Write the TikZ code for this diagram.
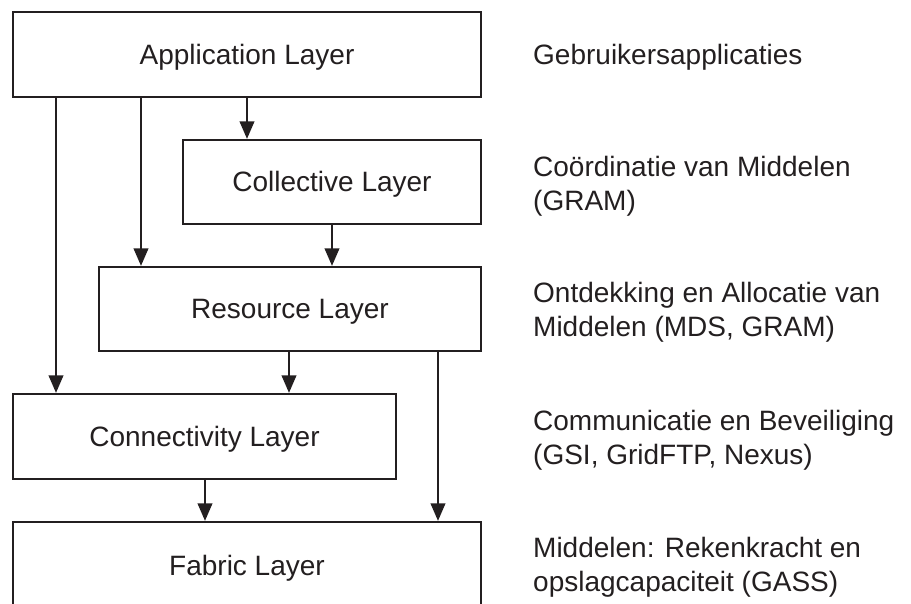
\documentclass[tikz,border=0pt]{standalone}
\usepackage{fontspec}
\setmainfont{Liberation Sans}
\usetikzlibrary{arrows.meta}
\definecolor{ink}{HTML}{231F20}
\begin{document}
\begin{tikzpicture}[x=1pt,y=-1pt,
  layer/.style={draw=ink,line width=2.2pt,fill=white,inner sep=0pt,
    text height=20pt,text depth=0pt,
    font=\fontsize{28}{33}\selectfont,text=ink},
  note/.style={anchor=west,align=left,inner sep=0pt,
    font=\fontsize{28}{34}\selectfont,text=ink},
  flow/.style={draw=ink,line width=2.2pt,
    -{Triangle[width=14.5pt,length=17.5pt]}}]
\useasboundingbox (0,0) rectangle (911,604);
% layer boxes
\node[layer,minimum width=468pt,minimum height=85pt] (app)  at (247,54.5) {Application Layer};
\node[layer,minimum width=298pt,minimum height=84pt] (coll) at (332,182) {Collective Layer};
\node[layer,minimum width=382pt,minimum height=84pt] (res)  at (290,309) {Resource Layer};
\node[layer,minimum width=383pt,minimum height=85pt] (conn) at (204.5,436.5) {Connectivity Layer};
\node[layer,minimum width=468pt,minimum height=86pt] (fab)  at (247,565) {Fabric Layer};
% descriptions
\node[note] (dapp)  at (533,57)  {Gebruikersapplicaties};
\node[note] (dcoll) at (533,186) {Coördinatie van Middelen\\(GRAM)};
\node[note] (dres)  at (533,312) {Ontdekking en Allocatie van\\Middelen (MDS, GRAM)};
\node[note] (dconn) at (533,440) {Communicatie en Beveiliging\\(GSI, GridFTP, Nexus)};
\node[note] (dfab)  at (533,567) {Middelen: Rekenkracht en\\opslagcapaciteit (GASS)};
% vertical lanes of the connectors
\coordinate (l1) at (56,0);
\coordinate (l2) at (141,0);
\coordinate (l3) at (247,0);
\coordinate (l4) at (332,0);
\coordinate (l5) at (289,0);
\coordinate (l6) at (438,0);
\coordinate (l7) at (205,0);
% connectors
\draw[flow] (l1 |- app.south)  -- (l1 |- conn.north);
\draw[flow] (l2 |- app.south)  -- (l2 |- res.north);
\draw[flow] (l3 |- app.south)  -- (l3 |- coll.north);
\draw[flow] (l4 |- coll.south) -- (l4 |- res.north);
\draw[flow] (l5 |- res.south)  -- (l5 |- conn.north);
\draw[flow] (l6 |- res.south)  -- (l6 |- fab.north);
\draw[flow] (l7 |- conn.south) -- (l7 |- fab.north);
\end{tikzpicture}
\end{document}
